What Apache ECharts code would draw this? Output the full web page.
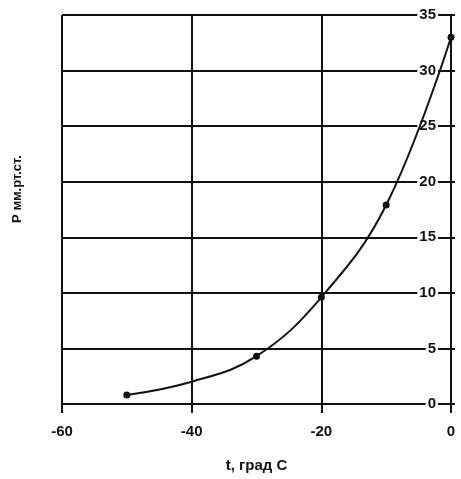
<!DOCTYPE html>
<html><head><meta charset="utf-8">
<script src="https://cdn.jsdelivr.net/npm/echarts@6/dist/echarts.min.js"></script>
<style>html,body{margin:0;padding:0;background:#fff}#c{width:461px;height:479px}</style>
</head><body><div id="c"></div>
<script>
const temps = [-50, -40, -30, -20, -10, 0];
const pressure = [0.8, 2.0, 4.3, 9.6, 17.9, 33.0];
const markerShown = [true, false, true, true, true, true];
const xTitle = 't, град С';
const yTitle = 'P мм.рт.ст.';

const chart = echarts.init(document.getElementById('c'), null, {renderer: 'canvas'});
const font = 'Liberation Sans, Arial, sans-serif';
chart.setOption({
  backgroundColor: '#fff',
  animation: false,
  grid: {left: 62, right: 10, top: 15, bottom: 75, outerBoundsMode: 'none', containLabel: false},
  graphic: [{
    type: 'text', x: 17, y: 189, rotation: Math.PI / 2,
    style: {text: yTitle, font: 'bold 13px Liberation Sans, Arial, sans-serif', fill: '#111',
      textAlign: 'center', textVerticalAlign: 'middle'}
  }],
  xAxis: {
    type: 'value', min: -60, max: 0, interval: 20,
    name: xTitle, nameLocation: 'middle', nameGap: 54,
    nameTextStyle: {fontFamily: font, fontWeight: 'bold', fontSize: 15, color: '#111'},
    axisLine: {show: true, lineStyle: {color: '#111', width: 2}},
    axisTick: {show: true, length: 9, lineStyle: {color: '#111', width: 2}},
    axisLabel: {fontFamily: font, fontSize: 15, fontWeight: 'bold', color: '#111', margin: 20},
    splitLine: {show: true, lineStyle: {color: '#111', width: 2}}
  },
  yAxis: {
    type: 'value', min: 0, max: 35, interval: 5, position: 'right',
    axisLine: {show: true, onZero: false, lineStyle: {color: '#111', width: 2}},
    axisTick: {show: true, inside: false, length: 4, lineStyle: {color: '#111', width: 2}},
    axisLabel: {inside: true, fontFamily: font, fontSize: 15, fontWeight: 'bold', color: '#111', margin: 13,
      backgroundColor: '#fff', padding: [0, 2, 0, 2]},
    splitLine: {show: true, lineStyle: {color: '#111', width: 2}}
  },
  series: [{
    type: 'line', smooth: 0.4,
    data: temps.map((t, i) => ({value: [t, pressure[i]], symbolSize: markerShown[i] ? 7 : 0})),
    symbol: 'circle',
    itemStyle: {color: '#111'},
    lineStyle: {color: '#111', width: 2},
    z: 5
  }]
});
</script></body></html>
